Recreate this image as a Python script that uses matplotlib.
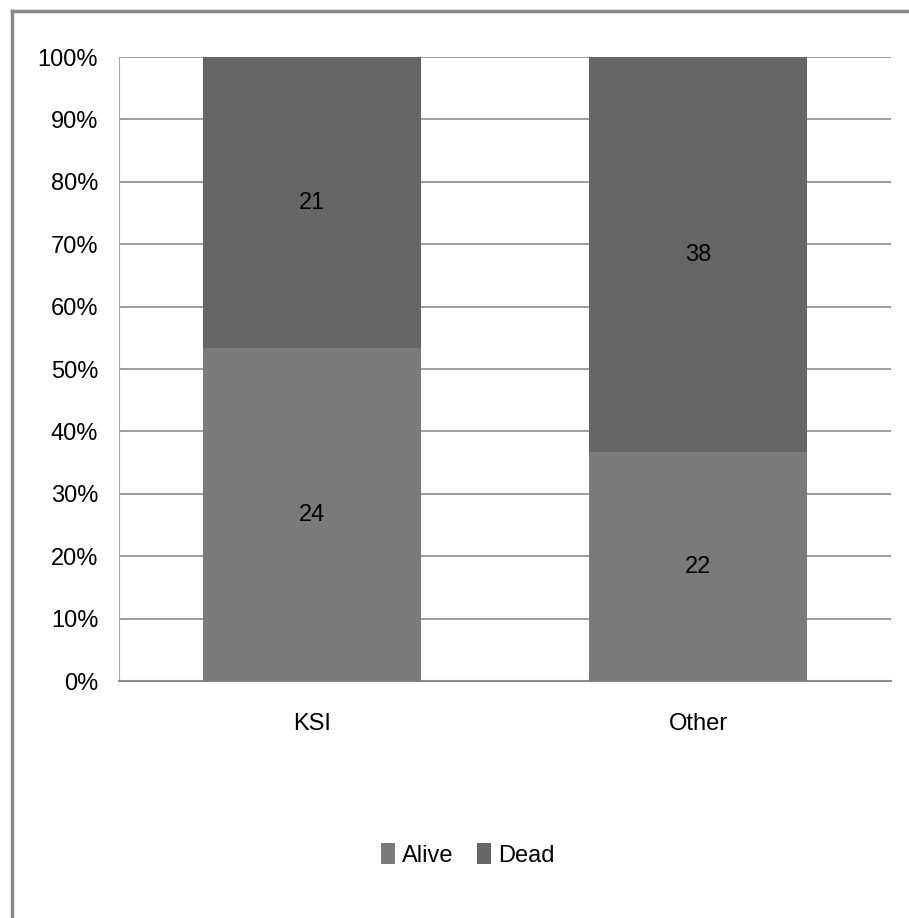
import matplotlib.pyplot as plt
from matplotlib.lines import Line2D
import numpy as np

categories = ["KSI", "Other"]
alive = [24, 22]
dead = [21, 38]
series_names = ["Alive", "Dead"]
tick_labels = ["0%", "10%", "20%", "30%", "40%", "50%", "60%", "70%", "80%", "90%", "100%"]

plt.rcParams["font.family"] = ["Liberation Sans", "DejaVu Sans"]

alive_c = "#7a7a7a"
dead_c = "#666666"
grid_c = "#8c8c8c"

W, H = 909, 918
fig = plt.figure(figsize=(W / 100, H / 100), dpi=100)

# chart frame: top and left edges
fig.add_artist(Line2D([11.5 / W, 1.0], [1 - 11 / H, 1 - 11 / H], transform=fig.transFigure,
                      color="#888888", linewidth=2.5))
fig.add_artist(Line2D([11.5 / W, 11.5 / W], [0, 1 - 11 / H], transform=fig.transFigure,
                      color="#888888", linewidth=2.5))

ax = fig.add_axes([119 / W, 1 - 681 / H, (891 - 119) / W, (681 - 57) / H])

totals = np.array(alive) + np.array(dead)
alive_pct = np.array(alive) / totals * 100
dead_pct = np.array(dead) / totals * 100
x = np.arange(len(categories))

ax.bar(x, alive_pct, width=0.565, color=alive_c, zorder=3, label=series_names[0])
ax.bar(x, dead_pct, width=0.565, bottom=alive_pct, color=dead_c, zorder=3, label=series_names[1])

for i in range(len(categories)):
    ax.text(x[i], alive_pct[i] / 2, str(alive[i]), ha="center", va="center", fontsize=17, color="black", zorder=4)
    ax.text(x[i], alive_pct[i] + dead_pct[i] / 2, str(dead[i]), ha="center", va="center", fontsize=17, color="black", zorder=4)

ax.set_xlim(-0.5, len(categories) - 0.5)
ax.set_ylim(0, 100)
ax.set_yticks(np.arange(0, 101, 10))
ax.set_yticklabels(tick_labels, fontsize=17)
ax.set_xticks(x)
ax.set_xticklabels(categories, fontsize=17)
ax.tick_params(axis="y", length=0, pad=15)
ax.tick_params(axis="x", length=0, pad=23)
ax.yaxis.grid(True, color=grid_c, linewidth=1.2, zorder=0)
for s in ["top", "right"]:
    ax.spines[s].set_visible(False)
ax.spines["left"].set_color("#aaaaaa")
ax.spines["bottom"].set_color(grid_c)
ax.spines["bottom"].set_linewidth(1.5)

fig.legend(loc="center", bbox_to_anchor=(468 / W, 1 - 855 / H), ncol=2, frameon=False,
           fontsize=17, handlelength=0.6, handleheight=1.0, handletextpad=0.3, columnspacing=1.0)

fig.savefig("out.png", dpi=100)
